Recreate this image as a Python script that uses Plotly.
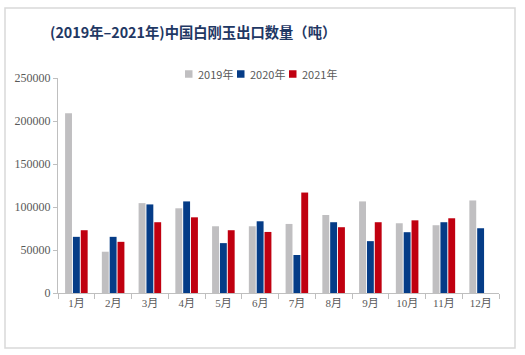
import plotly.graph_objects as go

months = ["1月", "2月", "3月", "4月", "5月", "6月", "7月", "8月", "9月", "10月", "11月", "12月"]
y2019 = [209000, 48000, 104500, 98500, 77600, 77600, 80300, 90700, 106500, 81100, 78800, 107600]
y2020 = [65300, 65300, 103000, 106500, 58000, 83400, 44200, 82300, 60300, 70700, 82300, 75300]
y2021 = [73000, 59500, 82300, 88000, 73000, 71000, 116800, 76500, 82300, 84500, 86900, None]

series = [("2019年", y2019, "#C0BFC1"), ("2020年", y2020, "#053C87"), ("2021年", y2021, "#C00010")]

fig = go.Figure()
for name, vals, col in series:
    fig.add_trace(go.Bar(x=months, y=vals, name=name, marker=dict(color=col, line=dict(width=0))))

W, H = 525, 355
L, R, T, B = 58, 499, 78, 293
pw, ph = R - L, B - T

def px(x):
    return (x - L) / pw

def py(y):
    return (B - y) / ph

shapes = [dict(type="rect", xref="paper", yref="paper",
               x0=px(5), x1=px(515), y0=py(348), y1=py(8),
               line=dict(color="#D9D9D9", width=1.5), fillcolor="rgba(0,0,0,0)", layer="below")]
annotations = [dict(text="<b>(2019年–2021年)中国白刚玉出口数量（吨）</b>", xref="paper", yref="paper",
                    x=px(48), y=py(32), xanchor="left", yanchor="middle", showarrow=False,
                    font=dict(family="Noto Sans CJK SC", size=14.3, color="#1F3864"))]

# legend drawn compactly (as in the reference)
leg_x = [185, 237, 289]
leg_y = 74
for (name, _, col), lx in zip(series, leg_x):
    shapes.append(dict(type="rect", xref="paper", yref="paper",
                       x0=px(lx), x1=px(lx + 7.5), y0=py(leg_y + 3.75), y1=py(leg_y - 3.75),
                       line=dict(width=0), fillcolor=col))
    annotations.append(dict(text=name, xref="paper", yref="paper", x=px(lx + 11), y=py(leg_y),
                            xanchor="left", yanchor="middle", showarrow=False,
                            font=dict(family="Noto Sans CJK SC, Noto Sans", size=11, color="#595959")))

fig.update_layout(
    width=W, height=H,
    margin=dict(l=L, r=W - R, t=T, b=H - B),
    paper_bgcolor="white", plot_bgcolor="white",
    barmode="group", bargap=0.36, bargroupgap=0.12,
    showlegend=False,
    xaxis=dict(showline=True, linecolor="#BFBFBF", linewidth=1, ticks="outside", tickson="boundaries",
               ticklen=5, tickcolor="#BFBFBF", showgrid=False,
               tickfont=dict(family="Liberation Serif, Noto Sans CJK SC", size=11, color="#595959")),
    yaxis=dict(range=[0, 250000], dtick=50000, showline=True, linecolor="#BFBFBF", linewidth=1,
               ticks="outside", ticklen=4, tickcolor="#BFBFBF", showgrid=False, zeroline=False,
               tickformat="d",
               tickfont=dict(family="Liberation Serif", size=12, color="#595959")),
    shapes=shapes,
    annotations=annotations,
)

fig.write_html("out.html", config={"displayModeBar": False},
               post_script="document.body.style.margin='0';document.body.style.overflow='hidden';")
